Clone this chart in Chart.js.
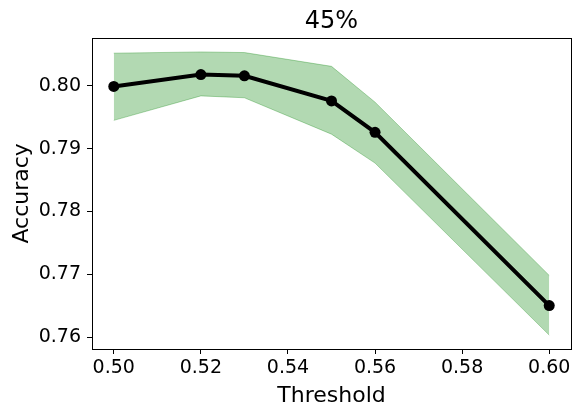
<!DOCTYPE html>
<html>
<head>
<meta charset="utf-8">
<script src="https://cdn.jsdelivr.net/npm/chart.js@4.4.1/dist/chart.umd.min.js"></script>
<style>
html,body{margin:0;padding:0;background:#fff;}
#wrap{width:582px;height:417px;position:relative;}
</style>
</head>
<body>
<div id="wrap"><canvas id="c" width="582" height="417"></canvas></div>
<script>
const thresholds = [0.50, 0.52, 0.53, 0.55, 0.56, 0.60];
const accuracy   = [0.7999, 0.8018, 0.8016, 0.7976, 0.7926, 0.7650];
const upperBand  = [0.8052, 0.8054, 0.8053, 0.8031, 0.7974, 0.7698];
const lowerBand  = [0.7945, 0.7984, 0.7981, 0.7923, 0.7877, 0.7603];
const xTicks = [0.50, 0.52, 0.54, 0.56, 0.58, 0.60];
const yTicks = [0.76, 0.77, 0.78, 0.79, 0.80];
const titleText = '45%';
const xLabel = 'Threshold';
const yLabel = 'Accuracy';

const FONT = "'DejaVu Sans', sans-serif";
const pts = arr => thresholds.map((x, i) => ({x: x, y: arr[i]}));

const frame = {
  id: 'frame',
  afterDatasetsDraw(chart) {
    const a = chart.chartArea, ctx = chart.ctx;
    ctx.save();
    ctx.strokeStyle = '#000';
    ctx.lineWidth = 1;
    ctx.strokeRect(Math.round(a.left) + 0.5, Math.round(a.top) + 0.5,
                   Math.round(a.right - a.left), Math.round(a.bottom - a.top));
    ctx.restore();
  }
};

new Chart(document.getElementById('c'), {
  type: 'line',
  data: {
    datasets: [
      {
        label: 'upper', data: pts(upperBand),
        borderColor: 'rgba(0,128,0,0.3)', borderWidth: 1,
        backgroundColor: 'rgba(0,128,0,0.3)',
        pointRadius: 0, fill: '+1', tension: 0, order: 2
      },
      {
        label: 'lower', data: pts(lowerBand),
        borderColor: 'rgba(0,128,0,0.3)', borderWidth: 1,
        backgroundColor: 'rgba(0,128,0,0.3)',
        pointRadius: 0, fill: false, tension: 0, order: 2
      },
      {
        label: 'acc', data: pts(accuracy),
        borderColor: '#000', borderWidth: 4,
        backgroundColor: '#000', pointBackgroundColor: '#000',
        pointBorderColor: '#000', pointRadius: 5.5, pointBorderWidth: 0,
        fill: false, tension: 0, order: 1
      }
    ]
  },
  options: {
    responsive: false,
    animation: false,
    events: [],
    layout: {padding: {left: 0, right: 11, top: 0, bottom: 0}},
    plugins: {
      legend: {display: false},
      tooltip: {enabled: false},
      title: {
        display: true, text: titleText, fullSize: false,
        color: '#000', font: {family: FONT, size: 24, weight: 'normal'},
        padding: {top: 7, bottom: 2}
      }
    },
    scales: {
      x: {
        type: 'linear', min: 0.495, max: 0.605,
        afterBuildTicks: s => { s.ticks = xTicks.map(v => ({value: v})); },
        afterFit: s => { s.height = 68; },
        grid: {drawOnChartArea: false, drawTicks: true, tickLength: 5, tickColor: '#000', tickWidth: 1},
        border: {display: false},
        ticks: {color: '#000', font: {family: FONT, size: 19}, padding: 3, maxRotation: 0,
                callback: v => Number(v).toFixed(2)},
        title: {display: true, text: xLabel, color: '#000',
                font: {family: FONT, size: 22}, padding: {top: 0, bottom: 8}}
      },
      y: {
        type: 'linear', min: 0.75809, max: 0.80765,
        afterBuildTicks: s => { s.ticks = yTicks.map(v => ({value: v})); },
        afterFit: s => { s.width = 92; },
        grid: {drawOnChartArea: false, drawTicks: true, tickLength: 5, tickColor: '#000', tickWidth: 1},
        border: {display: false},
        ticks: {color: '#000', font: {family: FONT, size: 19}, padding: 6,
                callback: v => Number(v).toFixed(2)},
        title: {display: true, text: yLabel, color: '#000',
                font: {family: FONT, size: 22}, padding: {top: 9, bottom: 0}}
      }
    }
  },
  plugins: [frame]
});
</script>
</body>
</html>
